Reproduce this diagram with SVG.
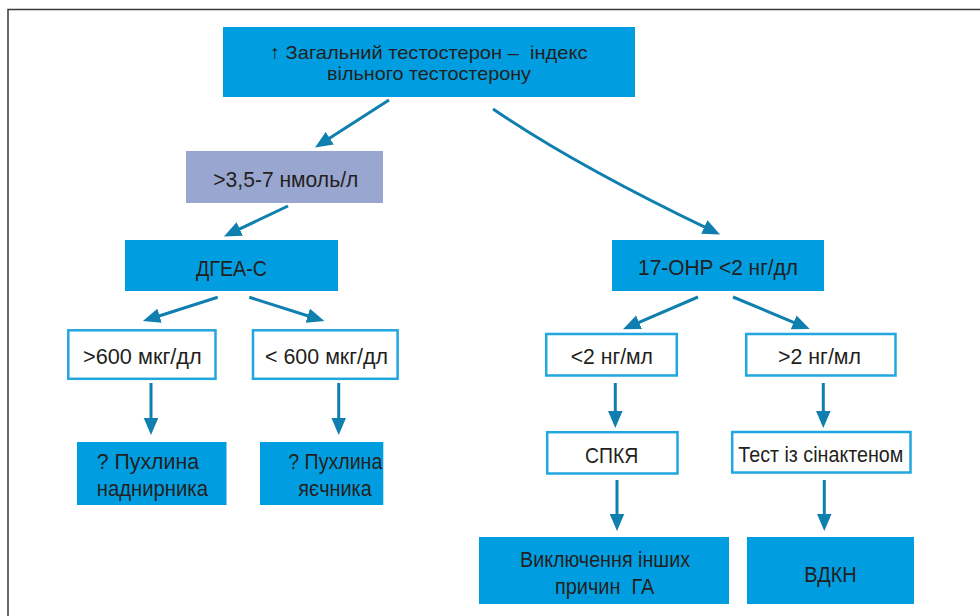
<svg xmlns="http://www.w3.org/2000/svg" width="980" height="616" viewBox="0 0 980 616">
<style>
.fill{fill:#009ee0;}
.lilac{fill:#99a6cf;}
.out{fill:#ffffff;stroke:#22a6e0;stroke-width:2.5;}
.t{font-family:"Liberation Sans","Noto Sans",sans-serif;font-size:22px;fill:#231f20;white-space:pre;}
.tt{font-family:"Liberation Sans","Noto Sans",sans-serif;font-size:19px;fill:#231f20;white-space:pre;}
.c{fill:none;stroke:#0e7fae;stroke-width:3;}
</style>
<defs>
<marker id="ah" markerUnits="userSpaceOnUse" markerWidth="18" markerHeight="16" refX="6" refY="7" orient="auto" viewBox="0 0 17 14">
<path d="M0,0 L16.5,7 L0,14 z" fill="#0e7fae"/>
</marker>
</defs>
<rect width="980" height="616" fill="#ffffff"/>
<g id="frame" fill="none" stroke="#3a3a3a" stroke-width="1.5">
<path d="M8,616 L8,9.5 L980,9.5"/>
</g>
<g id="connectors" class="c" marker-end="url(#ah)">
<path d="M389,100 L324.4,141.6"/>
<path d="M288,206 L234,231.7"/>
<path d="M493,109 Q575,165 710,229.7"/>
<path d="M217.7,297.3 L153.5,317.7"/>
<path d="M249.3,297.3 L313.8,317.7"/>
<path d="M698,297 L633.2,324.8"/>
<path d="M733,297 L799.5,324.8"/>
<path d="M151,383 L151,424"/>
<path d="M338.7,383 L338.7,424"/>
<path d="M615.3,383 L615.3,417"/>
<path d="M823.3,383 L823.3,417"/>
<path d="M617,480 L617,520"/>
<path d="M824.3,480 L824.3,520"/>
</g>
<g id="n_top">
<rect class="fill" x="223" y="27" width="412" height="70"/>
<text class="tt" x="270" y="58.5" textLength="317.5" lengthAdjust="spacingAndGlyphs">↑ Загальний тестостерон –  індекс</text>
<text class="tt" x="327" y="80" textLength="204" lengthAdjust="spacingAndGlyphs">вільного тестостерону</text>
</g>
<g id="n_range">
<rect class="lilac" x="186" y="151" width="197" height="52"/>
<text class="t" x="213.3" y="187.3" textLength="145" lengthAdjust="spacingAndGlyphs">&gt;3,5-7 нмоль/л</text>
</g>
<g id="n_dhea">
<rect class="fill" x="125" y="240" width="213" height="51"/>
<text class="t" x="196" y="275.7" textLength="71" lengthAdjust="spacingAndGlyphs">ДГЕА-С</text>
</g>
<g id="n_ohp">
<rect class="fill" x="612" y="240" width="212" height="51"/>
<text class="t" x="638" y="275" textLength="160" lengthAdjust="spacingAndGlyphs">17-OHP &lt;2 нг/дл</text>
</g>
<g id="n_gt600">
<rect class="out" x="68.3" y="330.3" width="147.2" height="48.5"/>
<text class="t" x="83" y="364" textLength="118.7" lengthAdjust="spacingAndGlyphs">&gt;600 мкг/дл</text>
</g>
<g id="n_lt600">
<rect class="out" x="253" y="330.3" width="144.6" height="48.5"/>
<text class="t" x="265" y="364" textLength="123" lengthAdjust="spacingAndGlyphs">&lt; 600 мкг/дл</text>
</g>
<g id="n_lt2">
<rect class="out" x="546.2" y="334" width="130.6" height="41.5"/>
<text class="t" x="570.7" y="364" textLength="82.3" lengthAdjust="spacingAndGlyphs">&lt;2 нг/мл</text>
</g>
<g id="n_gt2">
<rect class="out" x="746.2" y="334" width="149.3" height="41.5"/>
<text class="t" x="778" y="364" textLength="83" lengthAdjust="spacingAndGlyphs">&gt;2 нг/мл</text>
</g>
<g id="n_adrenal">
<rect class="fill" x="77" y="442" width="149.5" height="63"/>
<text class="t" x="96.7" y="469" textLength="102.3" lengthAdjust="spacingAndGlyphs">? Пухлина</text>
<text class="t" x="96.7" y="495.5" textLength="111.3" lengthAdjust="spacingAndGlyphs">наднирника</text>
</g>
<g id="n_ovary">
<rect class="fill" x="260" y="442" width="123.3" height="63"/>
<text class="t" x="288.3" y="469" textLength="94" lengthAdjust="spacingAndGlyphs">? Пухлина</text>
<text class="t" x="298.3" y="495.5" textLength="73.4" lengthAdjust="spacingAndGlyphs">яєчника</text>
</g>
<g id="n_pcos">
<rect class="out" x="547.2" y="432.2" width="130.3" height="41.3"/>
<text class="t" x="585" y="463" textLength="53.3" lengthAdjust="spacingAndGlyphs">СПКЯ</text>
</g>
<g id="n_synacthen">
<rect class="out" x="732.2" y="432" width="178.3" height="40.5"/>
<text class="t" x="738.3" y="462" textLength="165" lengthAdjust="spacingAndGlyphs">Тест із сінактеном</text>
</g>
<g id="n_exclude">
<rect class="fill" x="479" y="537" width="250" height="67"/>
<text class="t" x="520" y="566.7" textLength="170" lengthAdjust="spacingAndGlyphs">Виключення інших</text>
<text class="t" x="555" y="594" textLength="99.3" lengthAdjust="spacingAndGlyphs">причин  ГА</text>
</g>
<g id="n_cah">
<rect class="fill" x="747" y="537" width="167" height="67"/>
<text class="t" x="804.3" y="581.7" textLength="52.4" lengthAdjust="spacingAndGlyphs">ВДКН</text>
</g>
</svg>
